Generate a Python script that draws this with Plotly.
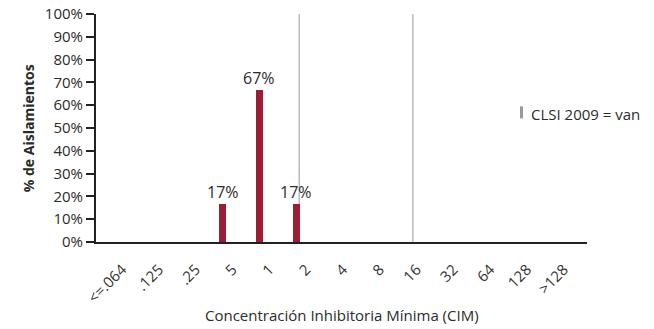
import plotly.graph_objects as go

categories = ["<=.064", ".125", ".25", "5", "1", "2", "4", "8", "16", "32", "64", "128", ">128"]
percent_values = [0, 0, 0, 16.67, 66.67, 16.67, 0, 0, 0, 0, 0, 0, 0]
bar_labels = ["", "", "", "17%", "67%", "17%", "", "", "", "", "", "", ""]
breakpoint_positions = [5.08, 8.17]
y_ticks = [0, 10, 20, 30, 40, 50, 60, 70, 80, 90, 100]
y_tick_labels = [f"{v}%" for v in y_ticks]

FONT = "Open Sans"
BAR_COLOR = "#9B1E34"
TEXT = "#2b2b2b"

fig = go.Figure()
fig.add_trace(go.Bar(
    x=list(range(len(categories))),
    y=percent_values,
    width=0.19,
    marker=dict(color=BAR_COLOR, line=dict(width=0)),
    showlegend=False,
    hoverinfo="skip",
))

for xp in breakpoint_positions:
    fig.add_shape(type="line", xref="x", yref="y", x0=xp, x1=xp, y0=0, y1=100,
                  line=dict(color="#9a9a9a", width=1), layer="below")

for i, (v, t) in enumerate(zip(percent_values, bar_labels)):
    if t:
        fig.add_annotation(x=i, y=v, xref="x", yref="y", text=t, showarrow=False,
                           yanchor="bottom", yshift=-1,
                           font=dict(family=FONT, size=16, color=TEXT, weight=500))

# legend-like marker for breakpoints
fig.add_shape(type="rect", xref="paper", yref="paper", x0=0.8635, x1=0.8697,
              y0=0.542, y1=0.595, fillcolor="#9a9a9a", line=dict(width=0))
fig.add_annotation(xref="paper", yref="paper", x=0.8813, y=0.5595, xanchor="left",
                   yanchor="middle", text="CLSI 2009 = van", showarrow=False,
                   font=dict(family=FONT, size=15, color=TEXT, weight=500))

fig.add_annotation(xref="paper", yref="paper", x=-0.138, y=0.5, textangle=-90,
                   text="% de Aislamientos", showarrow=False,
                   xanchor="center", yanchor="middle",
                   font=dict(family=FONT, size=14, color=TEXT, weight=700))
fig.add_annotation(xref="paper", yref="paper", x=0.5, y=-0.3216,
                   text="Concentración Inhibitoria Mínima (CIM)", showarrow=False,
                   xanchor="center", yanchor="middle",
                   font=dict(family=FONT, size=15, color=TEXT, weight=500))

fig.update_layout(
    width=654, height=329,
    margin=dict(l=96, r=67, t=14, b=87),
    paper_bgcolor="white", plot_bgcolor="white",
    bargap=0,
    xaxis=dict(
        range=[-0.44, 12.9], automargin=False,
        tickmode="array", tickvals=list(range(len(categories))), ticktext=categories,
        tickangle=-45, ticks="", showgrid=False, zeroline=False,
        ticklabelshift=10, ticklabelstandoff=11,
        showline=True, linecolor="#222", linewidth=2,
        tickfont=dict(family=FONT, size=15, color="#333", weight=500),
    ),
    yaxis=dict(
        range=[0, 100], automargin=False,
        tickmode="array", tickvals=y_ticks, ticktext=y_tick_labels,
        ticks="outside", ticklen=8, tickwidth=2, tickcolor="#222",
        showgrid=False, zeroline=False,
        showline=True, linecolor="#222", linewidth=2,
        tickfont=dict(family=FONT, size=15, color=TEXT, weight=500),
    ),
)

fig.write_html("out.html", config={"displayModeBar": False},
               post_script="document.body.style.margin='0';")
